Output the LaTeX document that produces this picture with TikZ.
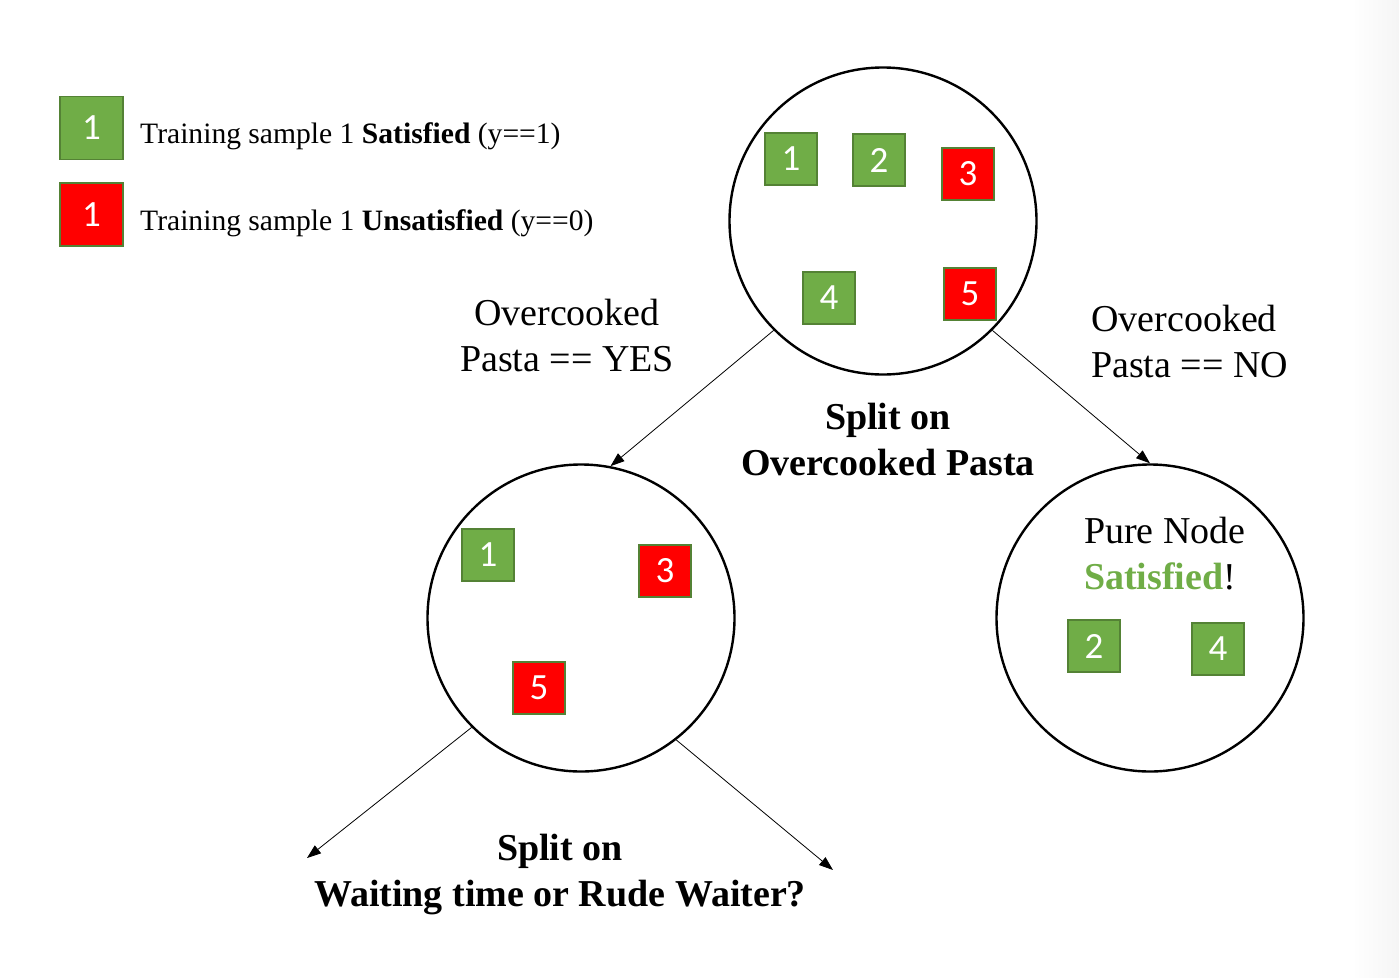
\documentclass[tikz,border=0pt]{standalone}
\usepackage{fontspec}
\setmainfont{Liberation Serif}
\newfontfamily\boxfont{Carlito}
\usepackage{tikz}
\usetikzlibrary{positioning,arrows.meta}
\definecolor{sampleGreen}{RGB}{112,173,71}
\definecolor{sampleBorder}{RGB}{84,130,53}
\definecolor{sampleRed}{RGB}{255,0,0}
\tikzstyle{canvas} = [x = 1pt, y = -1pt]
\tikzstyle{sampleBox} = [draw=sampleBorder, line width=1.5pt, minimum size=52pt, inner sep=0pt, text=white, font=\boxfont\fontsize{37}{40}\selectfont]
\tikzstyle{satisfiedBox} = [sampleBox, fill=sampleGreen]
\tikzstyle{unsatisfiedBox} = [sampleBox, fill=sampleRed]
\tikzstyle{legendBox} = [minimum size=63pt]
\tikzstyle{treeNode} = [draw, circle, line width=2.4pt, minimum size=307pt, inner sep=0pt]
\tikzstyle{splitArrow} = [-{Triangle[length=14pt, width=10pt]}, line width=0.8pt]
\tikzstyle{branchText} = [font=\fontsize{38}{46}\selectfont, inner sep=0pt]
\tikzstyle{splitText} = [font=\bfseries\fontsize{38}{46}\selectfont, align=center, inner sep=0pt]
\tikzstyle{legendText} = [font=\fontsize{29.6}{34}\selectfont, anchor=base west, inner sep=0pt]
\newcommand{\satisfiedSample}[4]{\node [satisfiedBox] (#1) at (#2,#3) {#4};}
\newcommand{\unsatisfiedSample}[4]{\node [unsatisfiedBox] (#1) at (#2,#3) {#4};}

\begin{document}
\begin{tikzpicture}[canvas]
  \useasboundingbox (0,0) rectangle (1399,977);
  \shade [left color=white, right color=black!4] (1352,0) rectangle (1399,977);

  % legend
  \node [satisfiedBox, legendBox] (legendGreen) at (91.5,128) {1};
  \node [legendText] (legendGreenText) at (140,143) {Training sample 1 \textbf{Satisfied} (y==1)};
  \node [unsatisfiedBox, legendBox] (legendRed) at (91.5,214.5) {1};
  \node [legendText] (legendRedText) at (140,230) {Training sample 1 \textbf{Unsatisfied} (y==0)};

  % tree
  \node [treeNode] (root) at (883,221) {};
  \node [treeNode] (yesNode) at (581,618) {};
  \node [treeNode] (noNode) at (1150,618) {};

  \satisfiedSample{rootOne}{791}{159}{1}
  \satisfiedSample{rootTwo}{879}{160}{2}
  \unsatisfiedSample{rootThree}{968}{174}{3}
  \satisfiedSample{rootFour}{829}{298}{4}
  \unsatisfiedSample{rootFive}{970}{294}{5}

  \satisfiedSample{yesOne}{488}{555}{1}
  \unsatisfiedSample{yesThree}{665}{571}{3}
  \unsatisfiedSample{yesFive}{539}{688}{5}

  \satisfiedSample{noTwo}{1094}{646}{2}
  \satisfiedSample{noFour}{1218}{649}{4}

  % arrows
  \coordinate (waitLeft) at (307,858);
  \coordinate (waitRight) at (833,870);
  \draw [splitArrow] (root.-135) -- (yesNode.79);
  \draw [splitArrow] (root.-45) -- (noNode.north);
  \draw [splitArrow] (yesNode.-135) -- (waitLeft);
  \draw [splitArrow] (yesNode.-52) -- (waitRight);

  % labels
  \node [branchText, align=center] (yesLabel) at (567,335) {Overcooked\\Pasta == YES};
  \node [branchText, align=left, anchor=west] (noLabel) at (1091,341) {Overcooked\\Pasta == NO};
  \node [splitText] (rootSplit) at (888,439) {Split on\\Overcooked Pasta};
  \node [splitText] (yesSplit) at (560,874) {Split on\\Waiting time or Rude Waiter?};
  \node [branchText, align=left, anchor=west] (pureLabel) at (1084,554) {Pure Node\\\textbf{\textcolor{sampleGreen}{Satisfied}}!};
\end{tikzpicture}
\end{document}
